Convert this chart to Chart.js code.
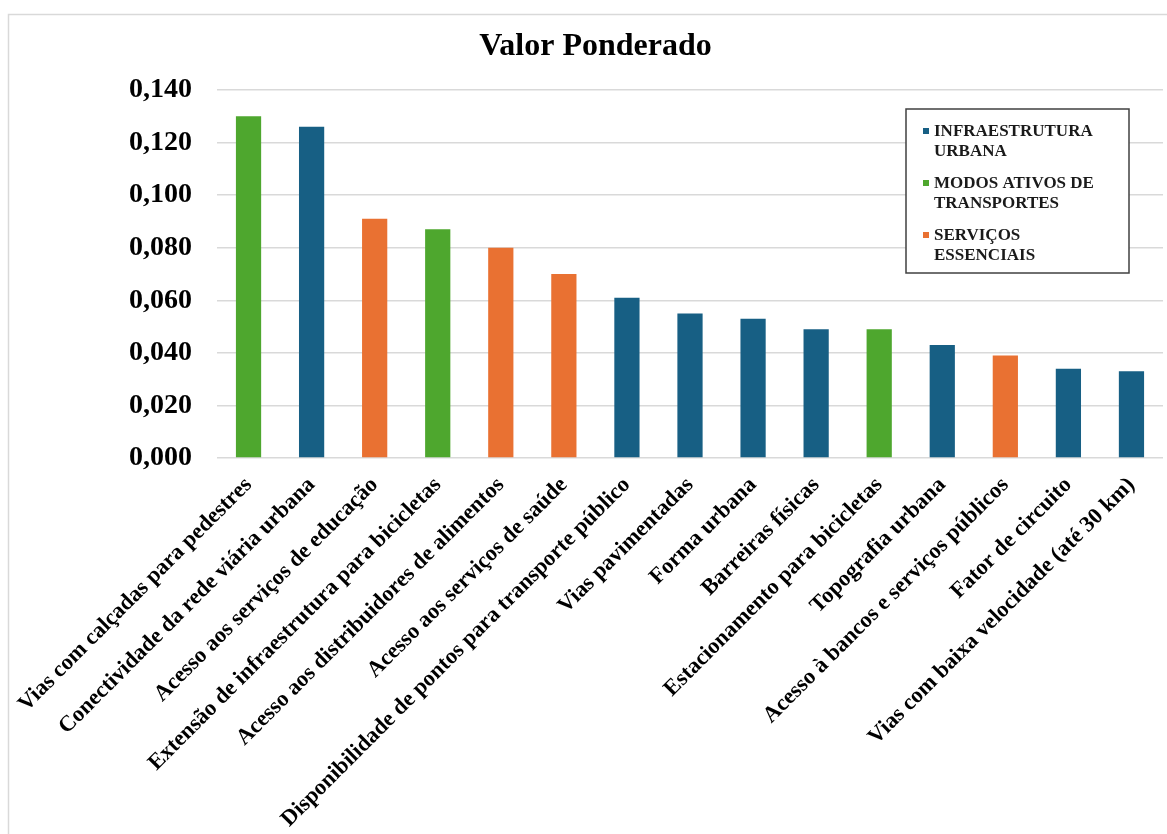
<!DOCTYPE html>
<html>
<head>
<meta charset="utf-8">
<script src="https://cdn.jsdelivr.net/npm/chart.js@4.4.1/dist/chart.umd.min.js"></script>
<style>
  html, body { margin: 0; padding: 0; background: #fff; }
  #wrap { width: 1167px; height: 834px; }
</style>
</head>
<body>
<div id="wrap"><canvas id="pesoChart" width="1167" height="834"></canvas></div>
<script>
// indicadores, em ordem decrescente
const categories = [
    'Vias com calçadas para pedestres',
    'Conectividade da rede viária urbana',
    'Acesso aos serviços de educação',
    'Extensão de infraestrutura para bicicletas',
    'Acesso aos distribuidores de alimentos',
    'Acesso aos serviços de saúde',
    'Disponibilidade de pontos para transporte público',
    'Vias pavimentadas',
    'Forma urbana',
    'Barreiras físicas',
    'Estacionamento para bicicletas',
    'Topografia urbana',
    'Acesso à bancos e serviços públicos',
    'Fator de circuito',
    'Vias com baixa velocidade (até 30 km)'
];
const values = [0.130, 0.126, 0.091, 0.087, 0.080, 0.070, 0.061, 0.055, 0.053, 0.049, 0.049, 0.043, 0.039, 0.034, 0.033];
// 0 = infraestrutura, 1 = modos ativos, 2 = serviços
const groups = [1, 0, 2, 1, 2, 2, 0, 0, 0, 0, 1, 0, 2, 0, 0];
const seriesNames = [
    ['INFRAESTRUTURA', 'URBANA'],
    ['MODOS ATIVOS DE', 'TRANSPORTES'],
    ['SERVIÇOS', 'ESSENCIAIS']
];
const seriesColors = ['#175F84', '#4EA72E', '#E97132'];
const yTicks = [0, 0.02, 0.04, 0.06, 0.08, 0.10, 0.12, 0.14];

const serif = "'Liberation Serif', 'Times New Roman', serif";

// one dataset per group, empty where the indicator belongs to another group
const datasets = seriesNames.map(function(name, s) {
    return {
        label: name.join(' '),
        lines: name,
        data: values.map(function(v, i) { return groups[i] === s ? v : null; }),
        backgroundColor: seriesColors[s],
        categoryPercentage: 0.8,
        barPercentage: 0.5
    };
});

// gray frame around the whole figure (runs off the right/bottom edge)
const framePlugin = {
    id: 'frame',
    beforeDraw: function(chart) {
        const ctx = chart.ctx;
        ctx.save();
        ctx.strokeStyle = '#d9d9d9';
        ctx.lineWidth = 1.5;
        ctx.strokeRect(8.5, 14.5, 1200, 900);
        ctx.restore();
    }
};

// legend box sitting inside the plot, top right
const boxLegend = {
    id: 'boxLegend',
    afterDraw: function(chart) {
        const ctx = chart.ctx;
        const x0 = 906, y0 = 109, w = 223, h = 164;
        ctx.save();
        ctx.fillStyle = '#fff';
        ctx.fillRect(x0, y0, w, h);
        ctx.strokeStyle = '#404040';
        ctx.lineWidth = 1.5;
        ctx.strokeRect(x0, y0, w, h);
        ctx.font = 'bold 17px ' + serif;
        ctx.textBaseline = 'middle';
        ctx.textAlign = 'left';
        chart.data.datasets.forEach(function(ds, k) {
            const yc = y0 + 22 + k * 52;
            ctx.fillStyle = ds.backgroundColor;
            ctx.fillRect(x0 + 17, yc - 3, 6, 6);
            ctx.fillStyle = '#1a1a1a';
            ds.lines.forEach(function(line, j) {
                ctx.fillText(line, x0 + 28, yc + j * 20 + 1);
            });
        });
        ctx.restore();
    }
};

const ctx = document.getElementById('pesoChart').getContext('2d');
new Chart(ctx, {
    type: 'bar',
    data: {
        labels: categories,
        datasets: datasets
    },
    plugins: [framePlugin, boxLegend],
    options: {
        responsive: false,
        animation: false,
        layout: { padding: { left: 28, right: 4, top: 0, bottom: 0 } },
        plugins: {
            legend: { display: false },
            tooltip: { enabled: false },
            title: {
                display: true,
                text: 'Valor Ponderado',
                color: '#000',
                font: { family: serif, size: 32, weight: 'bold' },
                padding: { top: 28, bottom: 23.6 }
            }
        },
        scales: {
            x: {
                stacked: true,
                grid: { display: false, drawTicks: false },
                border: { display: false },
                ticks: {
                    autoSkip: false,
                    minRotation: 45,
                    maxRotation: 45,
                    padding: 14,
                    color: '#000',
                    font: { family: serif, size: 22.5, weight: 'bold' }
                },
                afterFit: function(scale) {
                    scale.height = 376;
                    // long rotated labels must not push the plot to the right
                    scale.paddingLeft = 0;
                    scale.paddingRight = 0;
                }
            },
            y: {
                stacked: true,
                min: 0,
                max: 0.14,
                afterBuildTicks: function(scale) {
                    scale.ticks = yTicks.map(function(v) { return { value: v }; });
                },
                grid: { color: '#d9d9d9', lineWidth: 1.5, drawTicks: false },
                border: { display: false },
                ticks: {
                    padding: 25,
                    color: '#000',
                    font: { family: serif, size: 28, weight: 'bold' },
                    callback: function(v) { return v.toFixed(3).replace('.', ','); }
                },
                afterFit: function(scale) { scale.width = 189; }
            }
        }
    }
});
</script>
</body>
</html>
